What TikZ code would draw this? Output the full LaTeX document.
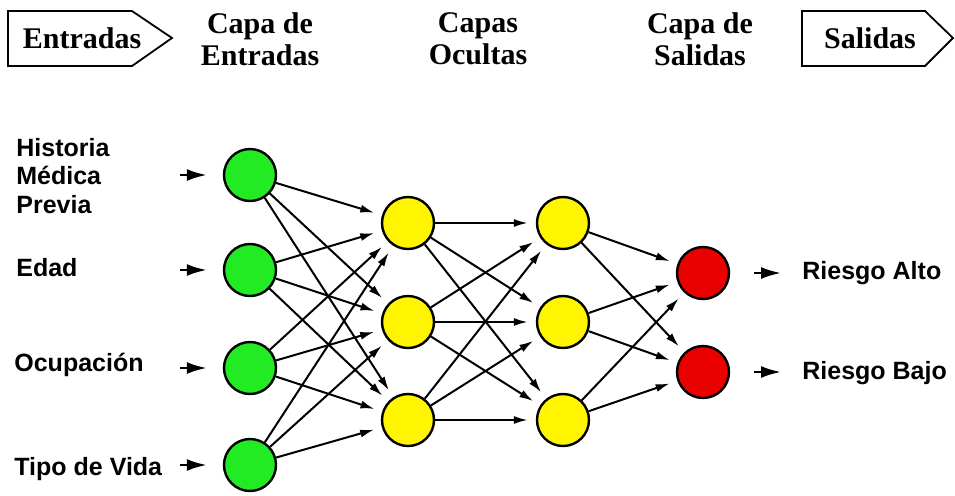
\documentclass[tikz,border=0pt]{standalone}
\usepackage{fontspec}
\setmainfont{Liberation Serif}
\newfontfamily\labelfont{Liberation Sans}
\usetikzlibrary{arrows.meta}
\definecolor{ingreen}{RGB}{35,235,35}
\definecolor{hidyellow}{RGB}{255,245,0}
\definecolor{outred}{RGB}{235,0,0}

\begin{document}
\begin{tikzpicture}[x=0.5pt,y=-0.5pt]
    \tikzstyle{neuron}=[draw,shape=circle,minimum size=26pt,inner sep=0pt,line width=1.2pt];
    \tikzstyle{link}=[draw,line width=1pt,-{Latex[length=7pt,width=4pt]},shorten >=4pt];
    \tikzstyle{feed}=[draw,line width=1.2pt,-{Latex[length=10pt,width=6pt]}];
    \tikzstyle{head}=[font=\fontsize{15}{16}\selectfont\bfseries,align=center,inner sep=0pt];
    \tikzstyle{sidetext}=[font=\labelfont\fontsize{12.5}{14.25}\selectfont\bfseries,align=left,anchor=west,inner sep=0pt];
    \useasboundingbox (0,0) rectangle (955,495);

    % cabecera
    \draw[line width=0.9pt] (8,11) -- (132,11) -- (172,38) -- (132,66) -- (8,66) -- cycle;
    \draw[line width=0.9pt] (802,11) -- (925,11) -- (953,38) -- (925,66) -- (802,66) -- cycle;
    \node[head] at (82,38)  (entradas) {Entradas};
    \node[head] at (260,39) (capain)   {Capa de\\Entradas};
    \node[head] at (478,39) (ocultas)  {Capas\\Ocultas};
    \node[head] at (700,39) (capaout)  {Capa de\\Salidas};
    \node[head] at (870,38) (salidas)  {Salidas};

    % capa de entradas
    \node[neuron,fill=ingreen] at (250,175) (i1) {};
    \node[neuron,fill=ingreen] at (250,270) (i2) {};
    \node[neuron,fill=ingreen] at (250,368) (i3) {};
    \node[neuron,fill=ingreen] at (250,465) (i4) {};

    % capas ocultas
    \node[neuron,fill=hidyellow] at (408,223) (h1) {};
    \node[neuron,fill=hidyellow] at (408,322) (h2) {};
    \node[neuron,fill=hidyellow] at (408,420) (h3) {};
    \node[neuron,fill=hidyellow] at (563,223) (k1) {};
    \node[neuron,fill=hidyellow] at (563,322) (k2) {};
    \node[neuron,fill=hidyellow] at (563,420) (k3) {};

    % capa de salidas
    \node[neuron,fill=outred] at (703,273) (o1) {};
    \node[neuron,fill=outred] at (703,372) (o2) {};

    % textos
    \node[sidetext] at (16,176) (hist) {Historia\\Médica\\Previa};
    \node[sidetext] at (16,268) (edad) {Edad};
    \node[sidetext] at (14,365) (ocup) {Ocupación};
    \node[sidetext] at (14,469) (tipo) {Tipo de Vida};
    \node[sidetext] at (802,273) (alto) {Riesgo Alto};
    \node[sidetext] at (802,373) (bajo) {Riesgo Bajo};

    \coordinate (a1) at (180,175);
    \coordinate (a2) at (180,270);
    \coordinate (a3) at (180,368);
    \coordinate (a4) at (180,465);
    \coordinate (r1) at (781,273);
    \coordinate (r2) at (781,372);

    \draw[feed,shorten >=8pt] (a1) -- (i1);
    \draw[feed,shorten >=8pt] (a2) -- (i2);
    \draw[feed,shorten >=8pt] (a3) -- (i3);
    \draw[feed,shorten >=8pt] (a4) -- (i4);
    \draw[feed,shorten <=12pt] (o1) -- (r1);
    \draw[feed,shorten <=12pt] (o2) -- (r2);

    \draw[link] (i1) to (h1); \draw[link] (i1) to (h2); \draw[link] (i1) to (h3);
    \draw[link] (i2) to (h1); \draw[link] (i2) to (h2); \draw[link] (i2) to (h3);
    \draw[link] (i3) to (h1); \draw[link] (i3) to (h2); \draw[link] (i3) to (h3);
    \draw[link] (i4) to (h1); \draw[link] (i4) to (h2); \draw[link] (i4) to (h3);

    \draw[link] (h1) to (k1); \draw[link] (h1) to (k2); \draw[link] (h1) to (k3);
    \draw[link] (h2) to (k1); \draw[link] (h2) to (k2); \draw[link] (h2) to (k3);
    \draw[link] (h3) to (k1); \draw[link] (h3) to (k2); \draw[link] (h3) to (k3);

    \draw[link] (k1) to (o1); \draw[link] (k1) to (o2);
    \draw[link] (k2) to (o1); \draw[link] (k2) to (o2);
    \draw[link] (k3) to (o1); \draw[link] (k3) to (o2);
\end{tikzpicture}
\end{document}
